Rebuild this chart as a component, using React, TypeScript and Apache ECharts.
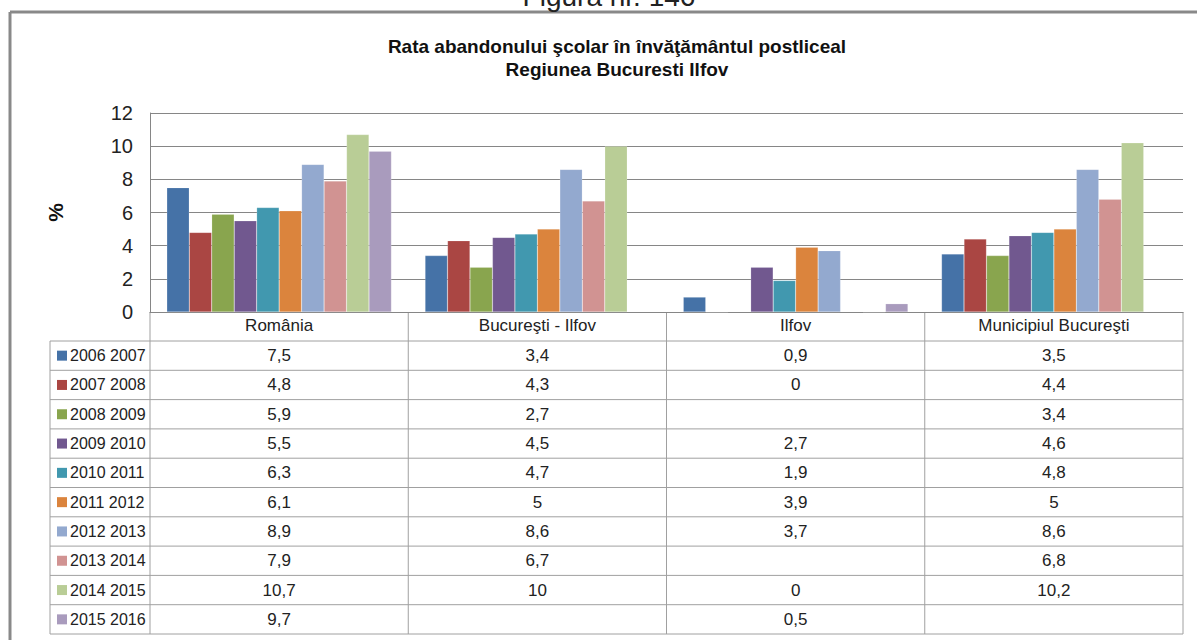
import React, { useEffect, useRef } from "react";
import * as echarts from "echarts";

const figureLabel = "Figura nr. 146";
const titleLine1 = "Rata abandonului şcolar în învăţământul postliceal";
const titleLine2 = "Regiunea Bucuresti Ilfov";
const yAxisName = "%";

const categories = ["România", "Bucureşti - Ilfov", "Ilfov", "Municipiul Bucureşti"];
const seriesNames = [
  "2006 2007", "2007 2008", "2008 2009", "2009 2010", "2010 2011",
  "2011 2012", "2012 2013", "2013 2014", "2014 2015", "2015 2016",
];
const s0607 = [7.5, 3.4, 0.9, 3.5];
const s0708 = [4.8, 4.3, 0, 4.4];
const s0809 = [5.9, 2.7, null, 3.4];
const s0910 = [5.5, 4.5, 2.7, 4.6];
const s1011 = [6.3, 4.7, 1.9, 4.8];
const s1112 = [6.1, 5, 3.9, 5];
const s1213 = [8.9, 8.6, 3.7, 8.6];
const s1314 = [7.9, 6.7, null, 6.8];
const s1415 = [10.7, 10, 0, 10.2];
const s1516 = [9.7, null, 0.5, null];
const seriesValues = [s0607, s0708, s0809, s0910, s1011, s1112, s1213, s1314, s1415, s1516];
const colors = [
  "#4572A7", "#AA4643", "#89A54E", "#71588F", "#4198AF",
  "#DB843D", "#93A9CF", "#D19392", "#B9CD96", "#A99BBD",
];
const yTicks = { min: 0, max: 12, interval: 2 };

const FONT = "'Liberation Sans', Arial, sans-serif";

export default function App() {
  const ref = useRef<HTMLDivElement>(null);
  useEffect(() => {
    if (!ref.current) return;
    const chart = echarts.init(ref.current, null, { renderer: "svg" });
    const gridLeft = 150;
    const gridRight = 14;
    const gridTop = 113;
    const gridHeight = 199;
    const W = 1197;
    const plotRight = W - gridRight;
    const axisBottom = gridTop + gridHeight;
    const headerBottom = 341;
    const rowH = 29.3;
    const legendLeft = 50;
    const lineColor = "#A0A0A0";

    chart.setOption({
      animation: false,
      backgroundColor: "#fff",
      textStyle: { fontFamily: FONT },
      title: {
        text: titleLine1 + "\n" + titleLine2,
        left: 612,
        top: 30,
        textAlign: "center",
        textStyle: { fontSize: 19, fontWeight: "bold", color: "#111", lineHeight: 23, fontFamily: FONT },
      },
      grid: { left: gridLeft, right: gridRight, top: gridTop, height: gridHeight, containLabel: false },
      xAxis: {
        type: "category",
        data: categories,
        axisLine: { show: true, lineStyle: { color: "#868686", width: 1 } },
        axisTick: { show: false },
        axisLabel: { fontSize: 17, color: "#222", margin: 5, fontFamily: FONT, interval: 0 },
      },
      yAxis: {
        type: "value",
        min: yTicks.min,
        max: yTicks.max,
        interval: yTicks.interval,
        name: yAxisName,
        nameLocation: "middle",
        nameGap: 84,
        nameRotate: 90,
        nameTextStyle: { fontSize: 21, fontWeight: "bold", color: "#111", fontFamily: FONT },
        axisLine: { show: true, lineStyle: { color: "#868686", width: 1 } },
        axisTick: { show: false },
        axisLabel: { fontSize: 20, color: "#222", margin: 17, fontFamily: FONT },
        splitLine: { lineStyle: { color: "#868686", width: 1 } },
      },
      series: seriesNames.map((name, i) => ({
        name,
        type: "bar",
        data: seriesValues[i],
        barGap: "0%",
        barCategoryGap: "13%",
        itemStyle: { color: colors[i], borderColor: "rgba(255,255,255,0.35)", borderWidth: 0.5 },
      })),
    });

    const centers = categories.map((_, i) => chart.convertToPixel({ xAxisIndex: 0 }, i) as number);
    const band = (plotRight - gridLeft) / categories.length;
    const tableBottom = headerBottom + rowH * seriesNames.length;
    const els: any[] = [];
    // frame
    els.push({ type: "line", shape: { x1: 10, y1: 12, x2: W, y2: 12 }, style: { stroke: "#898989", lineWidth: 3 } });
    els.push({ type: "line", shape: { x1: 10, y1: 12, x2: 10, y2: 640 }, style: { stroke: "#898989", lineWidth: 3 } });
    els.push({
      type: "text", x: 609, y: 10,
      style: { text: figureLabel, fontSize: 28, fill: "#222", align: "center", verticalAlign: "bottom", fontFamily: FONT },
    });
    // vertical table lines
    const xs = [gridLeft, ...centers.map((c) => c + band / 2)];
    xs.forEach((x) => {
      els.push({ type: "line", shape: { x1: x, y1: axisBottom, x2: x, y2: tableBottom }, style: { stroke: lineColor, lineWidth: 1 } });
    });
    els.push({ type: "line", shape: { x1: legendLeft, y1: headerBottom, x2: legendLeft, y2: tableBottom }, style: { stroke: lineColor, lineWidth: 1 } });
    for (let r = 0; r <= seriesNames.length; r++) {
      const y = headerBottom + r * rowH;
      els.push({ type: "line", shape: { x1: legendLeft, y1: y, x2: plotRight, y2: y }, style: { stroke: lineColor, lineWidth: 1 } });
    }
    seriesNames.forEach((name, r) => {
      const cy = headerBottom + r * rowH + rowH / 2;
      els.push({ type: "rect", shape: { x: 57, y: cy - 5, width: 10, height: 10 }, style: { fill: colors[r] } });
      els.push({
        type: "text", x: 70, y: cy,
        style: { text: name, fontSize: 16, fill: "#222", align: "left", verticalAlign: "middle", fontFamily: FONT },
      });
      seriesValues[r].forEach((v, c) => {
        if (v === null || v === undefined) return;
        els.push({
          type: "text", x: centers[c], y: cy,
          style: { text: String(v).replace(".", ","), fontSize: 17, fill: "#222", align: "center", verticalAlign: "middle", fontFamily: FONT },
        });
      });
    });
    chart.setOption({ graphic: { elements: els } });
    return () => chart.dispose();
  }, []);
  return <div ref={ref} style={{ position: "fixed", left: 0, top: 0, width: 1197, height: 640, background: "#fff" }} />;
}
